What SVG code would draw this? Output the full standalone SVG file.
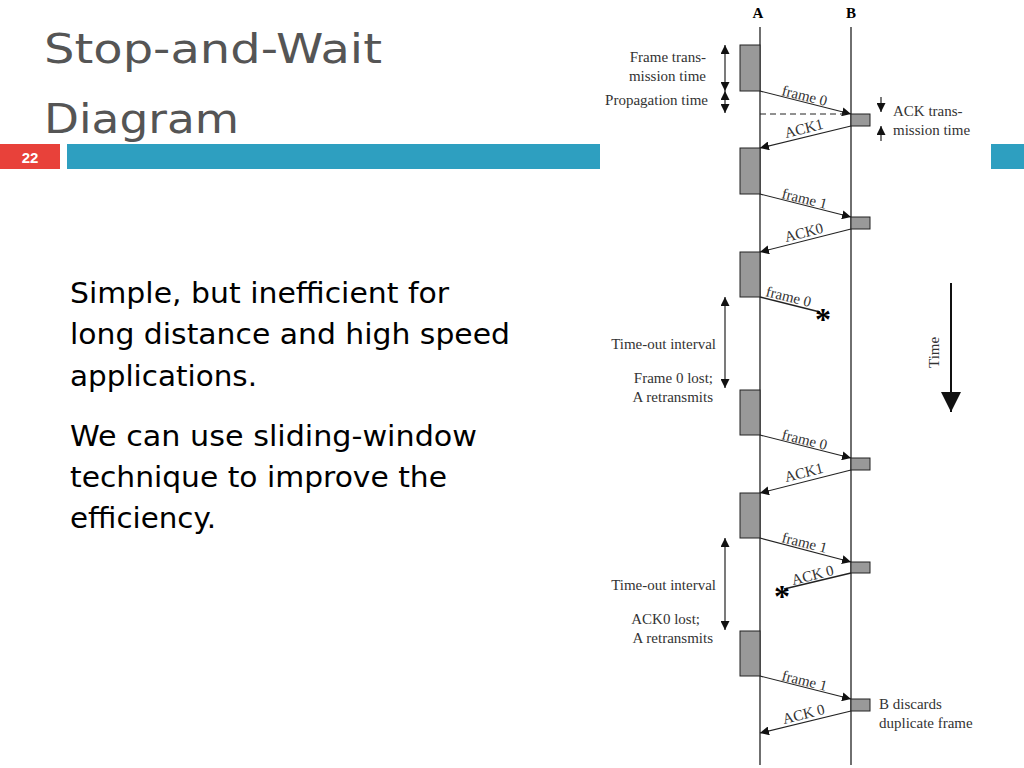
<svg xmlns="http://www.w3.org/2000/svg" width="1024" height="768" viewBox="0 0 1024 768">
<style>
.t{font-family:"Liberation Serif",serif;font-size:15px;fill:#333}
.b{font-family:"DejaVu Sans",sans-serif;font-size:29px;fill:#000}
.ln{stroke:#222;stroke-width:1.3;fill:none}
.bx{fill:#999;stroke:#222;stroke-width:1}
.ar{stroke:#222;stroke-width:1.2;fill:none;marker-end:url(#ah)}
.dd{stroke:#222;stroke-width:1.2;fill:none;marker-start:url(#ah2);marker-end:url(#ah)}
</style>
<defs>
<marker id="ah" viewBox="0 0 10 10" refX="10" refY="5" markerWidth="9" markerHeight="9" orient="auto" markerUnits="userSpaceOnUse"><path d="M0,0L10,5L0,10z" fill="#111"/></marker>
<marker id="ah2" viewBox="0 0 10 10" refX="0" refY="5" markerWidth="9" markerHeight="9" orient="auto" markerUnits="userSpaceOnUse"><path d="M10,0L0,5L10,10z" fill="#111"/></marker>
<marker id="big" viewBox="0 0 10 10" refX="10" refY="5" markerWidth="20" markerHeight="20" orient="auto" markerUnits="userSpaceOnUse"><path d="M0,0L10,5L0,10z" fill="#111"/></marker>
</defs>
<rect width="1024" height="768" fill="#fff"/>
<g id="header">
<text x="44" y="63" font-family="DejaVu Sans,sans-serif" font-size="40" fill="#555" textLength="338" lengthAdjust="spacingAndGlyphs">Stop-and-Wait</text>
<text x="44" y="133" font-family="DejaVu Sans,sans-serif" font-size="40" fill="#555" textLength="195" lengthAdjust="spacingAndGlyphs">Diagram</text>
<rect x="0" y="144" width="60" height="25" fill="#e8413a"/>
<text x="30" y="163" text-anchor="middle" font-family="Liberation Sans,sans-serif" font-size="15" font-weight="bold" fill="#fff">22</text>
<rect x="67" y="144" width="533" height="25" fill="#2e9fc0"/>
<rect x="991" y="144" width="33" height="25" fill="#2e9fc0"/>
</g>
<g id="body">
<text class="b" x="70" y="303" textLength="379" lengthAdjust="spacingAndGlyphs">Simple, but inefficient for</text>
<text class="b" x="70" y="344" textLength="440" lengthAdjust="spacingAndGlyphs">long distance and high speed</text>
<text class="b" x="70" y="386" textLength="187" lengthAdjust="spacingAndGlyphs">applications.</text>
<text class="b" x="70" y="446" textLength="407" lengthAdjust="spacingAndGlyphs">We can use sliding-window</text>
<text class="b" x="70" y="487" textLength="377" lengthAdjust="spacingAndGlyphs">technique to improve the</text>
<text class="b" x="70" y="528" textLength="146" lengthAdjust="spacingAndGlyphs">efficiency.</text>
</g>
<g id="timelines">
<line class="ln" x1="760" y1="27" x2="760" y2="765"/>
<line class="ln" x1="851" y1="27" x2="851" y2="765"/>
<text x="758" y="18" text-anchor="middle" font-family="Liberation Serif,serif" font-size="15" font-weight="bold">A</text>
<text x="851" y="18" text-anchor="middle" font-family="Liberation Serif,serif" font-size="15" font-weight="bold">B</text>
</g>
<g id="boxesA">
<rect class="bx" x="740" y="45" width="20" height="46"/>
<rect class="bx" x="740" y="148" width="20" height="46"/>
<rect class="bx" x="740" y="252" width="20" height="45"/>
<rect class="bx" x="740" y="390" width="20" height="45"/>
<rect class="bx" x="740" y="493" width="20" height="45"/>
<rect class="bx" x="740" y="631" width="20" height="45"/>
</g>
<g id="boxesB">
<rect class="bx" x="851" y="114" width="19" height="12"/>
<rect class="bx" x="851" y="217" width="19" height="12"/>
<rect class="bx" x="851" y="458" width="19" height="12"/>
<rect class="bx" x="851" y="562" width="19" height="11"/>
<rect class="bx" x="851" y="699" width="19" height="12"/>
</g>
<g id="connectors">
<line class="ar" x1="760" y1="91" x2="851" y2="114"/>
<line class="ar" x1="851" y1="126" x2="760" y2="148"/>
<line x1="760" y1="114" x2="845" y2="114" stroke="#222" stroke-width="1" stroke-dasharray="6,4"/>
<line class="ar" x1="760" y1="194" x2="851" y2="217"/>
<line class="ar" x1="851" y1="229" x2="760" y2="252"/>
<line class="ln" x1="760" y1="297" x2="820" y2="312"/>
<line class="ar" x1="760" y1="435" x2="851" y2="458"/>
<line class="ar" x1="851" y1="470" x2="760" y2="493"/>
<line class="ar" x1="760" y1="538" x2="851" y2="562"/>
<line class="ln" x1="851" y1="573" x2="784" y2="589"/>
<line class="ar" x1="760" y1="676" x2="851" y2="699"/>
<line class="ar" x1="851" y1="711" x2="760" y2="733"/>
<line class="dd" x1="725" y1="45" x2="725" y2="91"/>
<line class="dd" x1="725" y1="91" x2="725" y2="113"/>
<line class="dd" x1="725" y1="297" x2="725" y2="388"/>
<line class="dd" x1="725" y1="538" x2="725" y2="630"/>
<line class="ar" x1="881" y1="97" x2="881" y2="112"/>
<line class="ar" x1="881" y1="141" x2="881" y2="126"/>
<line x1="951" y1="283" x2="951" y2="412" stroke="#111" stroke-width="2" marker-end="url(#big)"/>
</g>
<g id="stars" font-family="Liberation Serif,serif" font-size="32" font-weight="bold" text-anchor="middle">
<text x="823" y="330">*</text>
<text x="782" y="607">*</text>
</g>
<g id="labels">
<text class="t" x="706" y="62" text-anchor="end">Frame trans-</text>
<text class="t" x="706" y="81" text-anchor="end">mission time</text>
<text class="t" x="708" y="105" text-anchor="end">Propagation time</text>
<text class="t" x="893" y="116">ACK trans-</text>
<text class="t" x="893" y="135">mission time</text>
<text class="t" x="716" y="349" text-anchor="end">Time-out interval</text>
<text class="t" x="713" y="383" text-anchor="end">Frame 0 lost;</text>
<text class="t" x="713" y="402" text-anchor="end">A retransmits</text>
<text class="t" x="716" y="590" text-anchor="end">Time-out interval</text>
<text class="t" x="700" y="624" text-anchor="end">ACK0 lost;</text>
<text class="t" x="713" y="643" text-anchor="end">A retransmits</text>
<text class="t" x="879" y="709">B discards</text>
<text class="t" x="879" y="728">duplicate frame</text>
<text class="t" transform="translate(939,368) rotate(-90)">Time</text>
<text class="t" transform="translate(781,95) rotate(14)">frame 0</text>
<text class="t" transform="translate(786,138) rotate(-14)">ACK1</text>
<text class="t" transform="translate(781,198) rotate(14)">frame 1</text>
<text class="t" transform="translate(786,242) rotate(-14)">ACK0</text>
<text class="t" transform="translate(765,296) rotate(14)">frame 0</text>
<text class="t" transform="translate(781,439) rotate(14)">frame 0</text>
<text class="t" transform="translate(786,482) rotate(-14)">ACK1</text>
<text class="t" transform="translate(781,542) rotate(14)">frame 1</text>
<text class="t" transform="translate(793,585) rotate(-14)">ACK 0</text>
<text class="t" transform="translate(781,680) rotate(14)">frame 1</text>
<text class="t" transform="translate(784,724) rotate(-14)">ACK 0</text>
</g>
</svg>
